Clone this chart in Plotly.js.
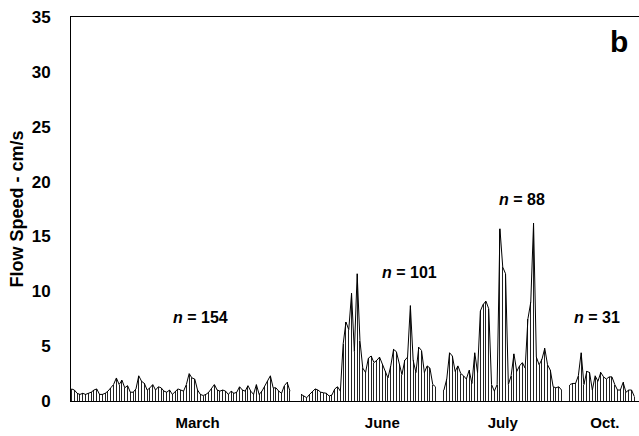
<!DOCTYPE html>
<html>
<head>
<meta charset="utf-8">
<script src="https://cdn.plot.ly/plotly-3.0.1.min.js"></script>
<style>html,body{margin:0;padding:0;background:#fff;}#chart{width:639px;height:436px;}</style>
</head>
<body>
<div id="chart"></div>
<script>
// ---- data (flow speed, cm/s) ----
const months = ['March', 'June', 'July', 'Oct.'];
const nCounts = [154, 101, 88, 31];
const marchSpeed = [1.1,1.0,0.7,0.6,0.7,0.6,0.7,0.8,1.0,1.1,
  0.6,0.6,0.7,0.9,1.2,1.5,2.1,1.5,1.9,1.2,
  1.4,0.8,0.8,1.1,2.3,1.8,1.6,1.0,1.2,1.5,
  1.0,1.3,1.2,0.9,0.8,1.0,0.6,0.9,1.1,1.0,
  0.9,1.5,2.5,2.1,2.0,1.0,0.6,0.5,0.6,0.8,
  1.1,1.5,1.0,0.9,1.0,0.9,0.6,0.9,0.7,0.8,
  1.3,1.0,0.9,1.4,0.9,0.6,1.5,0.6,0.9,1.4,
  1.8,2.3,1.2,1.2,0.9,0.7,1.4,1.7,0.9];
const juneSpeed = [0.6,0.45,0.3,0.6,0.85,1.1,1.0,0.8,0.75,0.7,
  0.45,0.55,1.1,1.3,0.9,5.2,7.2,6.5,9.8,4.5,
  11.6,5.5,3.0,2.6,3.9,4.1,3.5,3.7,4.0,3.4,
  2.7,2.1,3.2,4.7,4.5,3.4,2.4,3.7,4.0,8.7,
  3.7,2.6,4.9,4.6,2.6,3.2,3.0,1.5,1.3];
const julySpeed = [1.0,2.0,4.4,4.1,2.7,3.2,2.5,2.3,2.0,2.8,
  1.6,4.4,2.6,8.2,8.8,9.1,8.4,1.5,0.9,1.5,
  15.7,12.2,11.6,1.5,2.3,4.3,2.7,3.2,3.5,3.0,
  7.5,9.0,16.2,4.0,3.3,3.8,4.8,3.3,2.8,1.3,
  1.2,1.3,1.0];
const octSpeed = [1.5,1.6,1.6,2.3,4.4,1.5,2.7,2.6,1.0,2.3,
  1.8,2.6,2.2,2.0,2.2,2.2,1.5,1.0,1.0,1.7,
  0.8,1.0,1.0,0.4];
const yTicks = [0, 5, 10, 15, 20, 25, 30, 35];
const panelLetter = 'b';

// ---- layout helpers (sample slots between deployments, label offsets) ----
const segments = [marchSpeed, juneSpeed, julySpeed, octSpeed];
const emptySlotsBefore = [0, 3, 2, 2];
const labelShift = [6, 5, 0, 1];
const nLabelPos = [[46, 7.6], [120.7, 11.7], [160.9, 18.4], [187.7, 7.6]];

const barX = [], barY = [], lineX = [], lineY = [], tickVals = [];
let pos = 0;
segments.forEach((seg, k) => {
  pos += emptySlotsBefore[k];
  if (k > 0) { lineX.push(pos - 0.5); lineY.push(null); }
  const start = pos;
  seg.forEach(v => { barX.push(pos); barY.push(v); lineX.push(pos); lineY.push(v); pos++; });
  tickVals.push(start + (seg.length - 1) / 2 + labelShift[k]);
});

const FONT = 'Liberation Sans, Arial, Helvetica, sans-serif';

const traces = [
  {type: 'bar', x: barX, y: barY, width: 0.36,
   marker: {color: '#222', line: {width: 0}}, hoverinfo: 'skip', showlegend: false},
  {type: 'scatter', mode: 'lines', x: lineX, y: lineY, connectgaps: false,
   line: {color: '#000', width: 1}, hoverinfo: 'skip', showlegend: false}
];

const annotations = nCounts.map((n, k) => ({
  x: nLabelPos[k][0], y: nLabelPos[k][1], xref: 'x', yref: 'y',
  text: '<b><i>n</i> = ' + n + '</b>', showarrow: false,
  font: {family: FONT, size: 16, color: '#000'}, xanchor: 'center', yanchor: 'middle'
}));
annotations.push({
  x: 0.965, y: 0.9375, xref: 'paper', yref: 'paper', text: '<b>' + panelLetter + '</b>',
  showarrow: false, font: {family: FONT, size: 30, color: '#000'},
  xanchor: 'center', yanchor: 'middle'
});

const layout = {
  width: 639, height: 436,
  margin: {l: 71, r: 0, t: 17, b: 35, pad: 0},
  paper_bgcolor: '#fff', plot_bgcolor: '#fff',
  bargap: 0,
  font: {family: FONT, color: '#000'},
  xaxis: {
    range: [-0.2, 202.66], showgrid: false, zeroline: false,
    showline: true, linecolor: '#000', linewidth: 1, mirror: true,
    ticks: '', tickvals: tickVals, ticktext: months.map(m => '<b>' + m + '</b>'),
    tickfont: {family: FONT, size: 15, color: '#000'}, ticklabelstandoff: 8
  },
  yaxis: {
    range: [0, 35], showgrid: false, zeroline: false,
    showline: true, linecolor: '#000', linewidth: 1, mirror: false,
    ticks: '', tickvals: yTicks, ticktext: yTicks.map(t => '<b>' + t + '</b>'),
    tickfont: {family: FONT, size: 17, color: '#000'}, ticklabelstandoff: 16,
    title: {text: '<b>Flow Speed - cm/s</b>', font: {family: FONT, size: 18, color: '#000'}, standoff: 3}
  },
  annotations: annotations
};

Plotly.newPlot('chart', traces, layout, {displayModeBar: false, staticPlot: true});
</script>
</body>
</html>
